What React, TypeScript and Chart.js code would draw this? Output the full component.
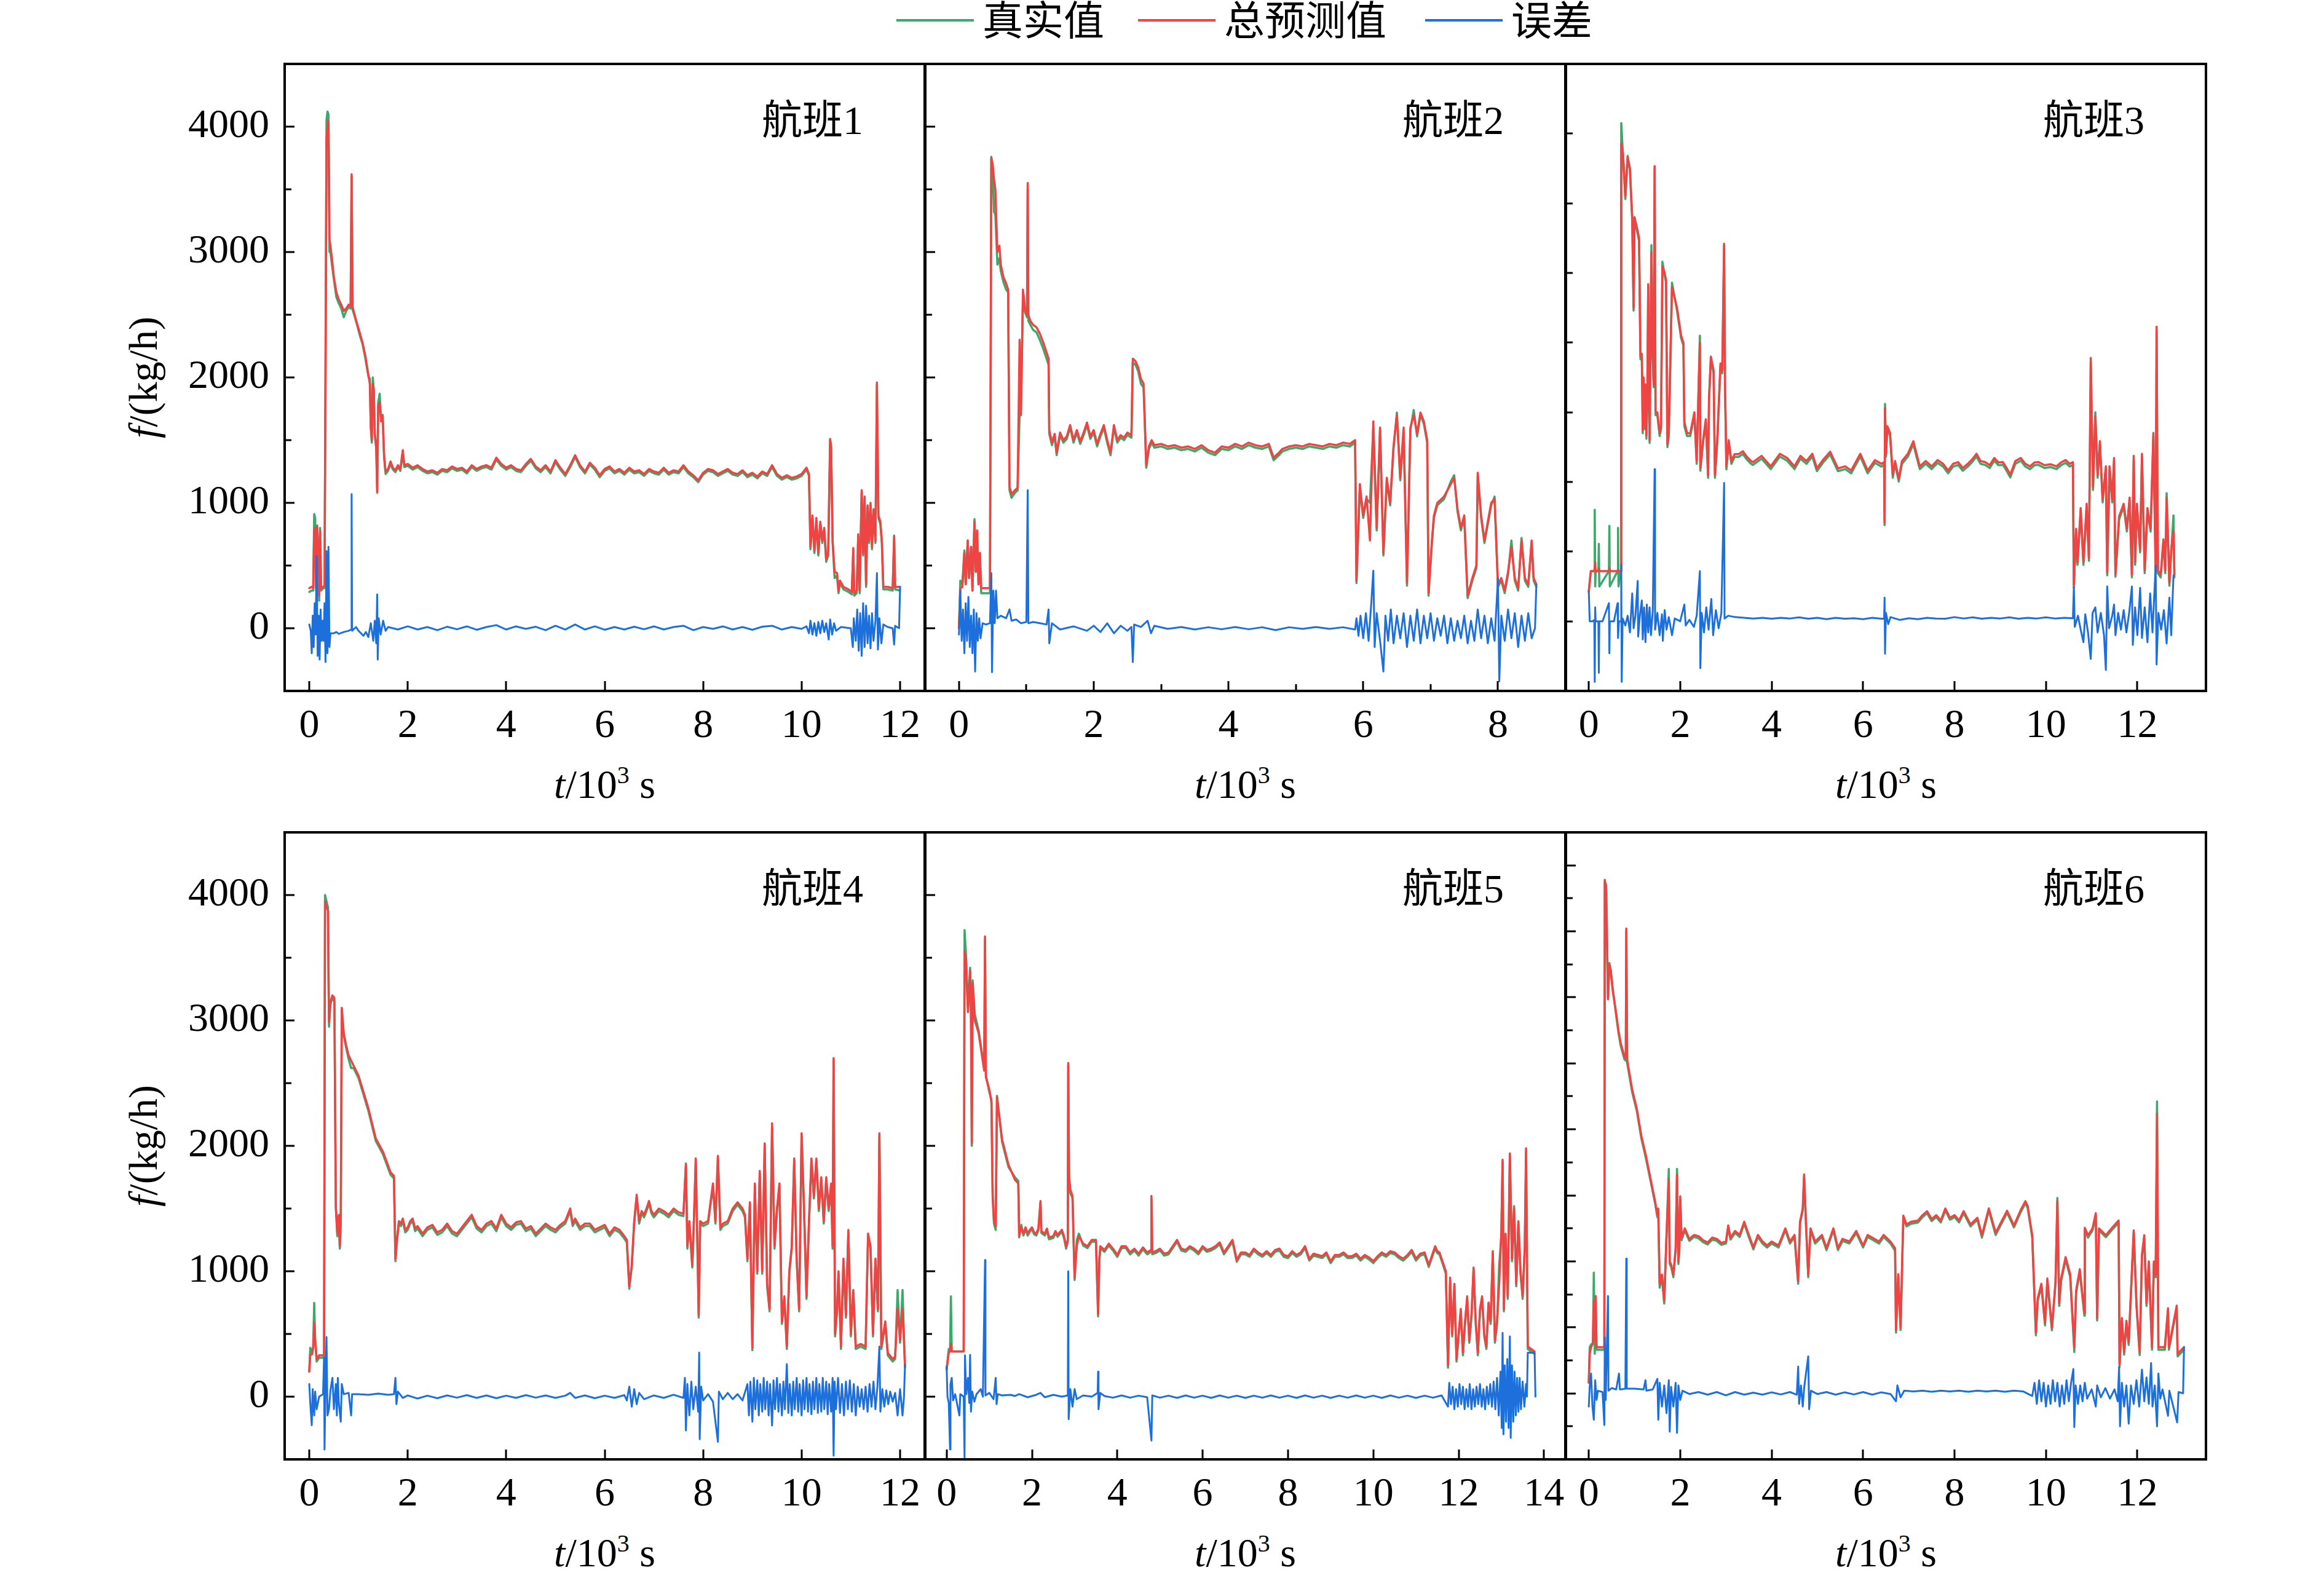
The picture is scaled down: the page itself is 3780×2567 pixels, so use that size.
import React, { useEffect, useRef } from "react";
import { Chart, registerables } from "chart.js";

Chart.register(...registerables);

type Pt = [number, number];

// ---------------- 航班1 ----------------
const pred1: Pt[] = [[0,320],[0.05,330],[0.08,320],[0.1,780],[0.12,800],[0.14,320],[0.16,810],[0.18,600],[0.2,260],[0.22,780],[0.24,320],[0.28,330],[0.31,340],[0.33,2000],[0.35,3900],[0.37,4000],[0.39,4050],[0.41,3100],[0.43,3050],[0.46,2950],[0.5,2800],[0.55,2680],[0.6,2620],[0.65,2580],[0.7,2530],[0.75,2550],[0.8,2580],[0.84,2570],[0.86,3620],[0.88,2560],[0.92,2500],[0.97,2430],[1.03,2350],[1.08,2280],[1.14,2170],[1.2,2020],[1.23,1950],[1.25,1600],[1.27,1500],[1.29,1950],[1.31,1900],[1.33,1550],[1.36,1450],[1.38,1090],[1.4,1780],[1.43,1800],[1.46,1650],[1.49,1700],[1.52,1380],[1.55,1250],[1.6,1270],[1.65,1330],[1.7,1280],[1.75,1260],[1.8,1300],[1.85,1270],[1.9,1420],[1.93,1300],[2,1310],[2.1,1280],[2.2,1300],[2.3,1270],[2.4,1250],[2.5,1260],[2.6,1240],[2.7,1270],[2.8,1260],[2.9,1290],[3,1270],[3.1,1280],[3.2,1250],[3.3,1300],[3.4,1270],[3.5,1290],[3.6,1300],[3.7,1280],[3.8,1360],[3.9,1310],[4,1280],[4.1,1300],[4.2,1270],[4.3,1260],[4.4,1310],[4.5,1350],[4.6,1290],[4.7,1260],[4.8,1300],[4.9,1250],[5,1340],[5.1,1280],[5.2,1230],[5.3,1300],[5.4,1380],[5.5,1300],[5.6,1250],[5.7,1320],[5.8,1280],[5.9,1220],[6,1270],[6.1,1290],[6.2,1250],[6.3,1270],[6.4,1240],[6.5,1280],[6.6,1250],[6.7,1260],[6.8,1230],[6.9,1270],[7,1250],[7.1,1240],[7.2,1280],[7.3,1240],[7.4,1260],[7.5,1250],[7.6,1300],[7.7,1250],[7.8,1220],[7.9,1180],[8,1240],[8.1,1270],[8.2,1260],[8.3,1230],[8.4,1250],[8.5,1270],[8.6,1240],[8.7,1230],[8.8,1260],[8.9,1220],[9,1240],[9.1,1210],[9.2,1250],[9.3,1230],[9.4,1300],[9.5,1230],[9.6,1200],[9.7,1220],[9.8,1200],[9.9,1210],[10,1230],[10.1,1280],[10.15,1230],[10.18,650],[10.22,900],[10.26,620],[10.3,880],[10.34,600],[10.38,850],[10.42,700],[10.46,800],[10.5,550],[10.54,600],[10.58,1510],[10.6,1450],[10.63,700],[10.67,450],[10.72,440],[10.75,300],[10.78,380],[10.85,330],[10.95,310],[11.02,290],[11.05,640],[11.07,280],[11.12,300],[11.15,750],[11.18,300],[11.22,1100],[11.25,600],[11.28,1050],[11.31,350],[11.34,980],[11.37,700],[11.4,1000],[11.43,650],[11.46,950],[11.5,700],[11.53,1960],[11.56,900],[11.6,850],[11.63,700],[11.66,330],[11.75,330],[11.85,320],[11.88,730],[11.9,330],[12,330]];
const true1: Pt[] = [[0,290],[0.05,300],[0.08,300],[0.1,910],[0.12,880],[0.14,300],[0.16,820],[0.18,620],[0.2,220],[0.22,800],[0.24,300],[0.28,320],[0.31,320],[0.33,2100],[0.35,4050],[0.37,4120],[0.39,4100],[0.41,3000],[0.43,3000],[0.46,2900],[0.5,2780],[0.55,2640],[0.6,2590],[0.65,2550],[0.7,2480],[0.75,2530],[0.8,2560],[0.84,2550],[0.86,3600],[0.88,2540],[0.92,2490],[0.97,2420],[1.03,2330],[1.08,2270],[1.14,2150],[1.2,2010],[1.23,1990],[1.25,1600],[1.27,1480],[1.29,2000],[1.31,1900],[1.33,1550],[1.36,1430],[1.38,1080],[1.4,1800],[1.43,1870],[1.46,1650],[1.49,1700],[1.52,1360],[1.55,1230],[1.6,1255],[1.65,1310],[1.7,1265],[1.75,1245],[1.8,1285],[1.85,1255],[1.9,1405],[1.93,1285],[2,1295],[2.1,1265],[2.2,1285],[2.3,1255],[2.4,1235],[2.5,1245],[2.6,1225],[2.7,1255],[2.8,1245],[2.9,1275],[3,1255],[3.1,1265],[3.2,1235],[3.3,1285],[3.4,1255],[3.5,1275],[3.6,1285],[3.7,1265],[3.8,1345],[3.9,1295],[4,1265],[4.1,1285],[4.2,1255],[4.3,1245],[4.4,1295],[4.5,1335],[4.6,1275],[4.7,1245],[4.8,1285],[4.9,1235],[5,1325],[5.1,1265],[5.2,1215],[5.3,1285],[5.4,1365],[5.5,1285],[5.6,1235],[5.7,1305],[5.8,1265],[5.9,1205],[6,1255],[6.1,1275],[6.2,1235],[6.3,1255],[6.4,1225],[6.5,1265],[6.6,1235],[6.7,1245],[6.8,1215],[6.9,1255],[7,1235],[7.1,1225],[7.2,1265],[7.3,1225],[7.4,1245],[7.5,1235],[7.6,1285],[7.7,1235],[7.8,1205],[7.9,1165],[8,1225],[8.1,1255],[8.2,1245],[8.3,1215],[8.4,1235],[8.5,1255],[8.6,1225],[8.7,1215],[8.8,1245],[8.9,1205],[9,1225],[9.1,1195],[9.2,1235],[9.3,1215],[9.4,1285],[9.5,1215],[9.6,1185],[9.7,1205],[9.8,1185],[9.9,1195],[10,1215],[10.1,1265],[10.15,1215],[10.18,630],[10.22,880],[10.26,600],[10.3,860],[10.34,580],[10.38,830],[10.42,680],[10.46,780],[10.5,530],[10.54,580],[10.58,1500],[10.6,1440],[10.63,680],[10.67,400],[10.72,420],[10.75,280],[10.78,360],[10.85,310],[10.95,290],[11.02,270],[11.05,620],[11.07,260],[11.12,280],[11.15,730],[11.18,280],[11.22,1080],[11.25,580],[11.28,1030],[11.31,330],[11.34,960],[11.37,680],[11.4,980],[11.43,630],[11.46,930],[11.5,680],[11.53,1940],[11.56,880],[11.6,830],[11.63,680],[11.66,310],[11.75,310],[11.85,300],[11.88,740],[11.9,310],[12,300]];
const err1: Pt[] = [[0,30],[0.03,-20],[0.05,-200],[0.07,100],[0.09,-150],[0.11,200],[0.13,-50],[0.15,576],[0.17,-220],[0.19,100],[0.21,-250],[0.23,150],[0.25,-100],[0.27,60],[0.29,-100],[0.31,200],[0.33,-270],[0.35,615],[0.37,-200],[0.39,650],[0.41,-150],[0.43,-40],[0.5,-40],[0.55,-30],[0.6,-45],[0.7,-30],[0.8,-20],[0.85,-10],[0.86,1070],[0.87,-20],[0.95,10],[1,-20],[1.1,-60],[1.15,-30],[1.2,-70],[1.25,40],[1.3,-100],[1.33,60],[1.36,-120],[1.38,270],[1.39,-250],[1.41,80],[1.45,-50],[1.5,60],[1.55,-20],[1.6,10],[1.8,-10],[2,15],[2.2,-10],[2.4,10],[2.6,-15],[2.8,12],[3,-8],[3.2,15],[3.4,-12],[3.6,10],[3.8,25],[4,-10],[4.2,15],[4.4,-5],[4.6,12],[4.8,-15],[5,20],[5.2,-10],[5.4,30],[5.6,-10],[5.8,15],[6,-12],[6.2,10],[6.4,-10],[6.6,12],[6.8,-8],[7,15],[7.2,-10],[7.4,10],[7.6,20],[7.8,-15],[8,10],[8.2,-5],[8.4,15],[8.6,-10],[8.8,10],[9,-12],[9.2,12],[9.4,20],[9.6,-10],[9.8,10],[10,-5],[10.1,15],[10.15,-40],[10.18,60],[10.22,-50],[10.26,40],[10.3,-60],[10.34,50],[10.38,-40],[10.42,60],[10.46,-30],[10.5,40],[10.55,-90],[10.58,70],[10.62,-50],[10.66,40],[10.7,-20],[10.8,10],[11,0],[11.04,-150],[11.06,80],[11.1,-100],[11.13,150],[11.16,-180],[11.19,120],[11.22,-220],[11.25,200],[11.28,-150],[11.31,180],[11.34,-120],[11.37,100],[11.4,-160],[11.43,120],[11.46,-100],[11.5,60],[11.53,440],[11.55,-170],[11.58,80],[11.62,-120],[11.66,30],[11.75,10],[11.85,0],[11.88,-130],[11.9,20],[11.98,0],[12,330]];

// ---------------- 航班2 ----------------
const pred2: Pt[] = [[0,0],[0.02,320],[0.05,330],[0.08,600],[0.1,350],[0.13,700],[0.15,400],[0.18,650],[0.2,300],[0.23,850],[0.25,450],[0.27,780],[0.29,350],[0.31,600],[0.33,320],[0.4,320],[0.46,320],[0.48,3750],[0.5,3700],[0.52,3580],[0.54,3500],[0.57,3000],[0.6,3050],[0.62,2900],[0.66,2800],[0.7,2750],[0.73,2700],[0.75,1130],[0.78,1070],[0.83,1100],[0.87,1120],[0.9,2300],[0.92,1700],[0.95,2700],[0.98,2550],[1.01,2500],[1.02,3550],[1.03,2500],[1.06,2450],[1.1,2420],[1.15,2400],[1.2,2350],[1.25,2280],[1.3,2200],[1.33,2150],[1.34,1580],[1.38,1480],[1.42,1550],[1.45,1400],[1.5,1560],[1.55,1500],[1.6,1530],[1.65,1620],[1.7,1500],[1.75,1580],[1.8,1490],[1.85,1560],[1.9,1640],[1.95,1530],[2,1580],[2.05,1470],[2.1,1550],[2.15,1620],[2.2,1500],[2.25,1400],[2.3,1620],[2.35,1500],[2.4,1540],[2.45,1520],[2.5,1560],[2.56,1540],[2.58,2150],[2.62,2130],[2.66,2080],[2.7,1990],[2.74,1950],[2.78,1300],[2.82,1450],[2.86,1500],[2.9,1460],[3,1470],[3.1,1450],[3.2,1460],[3.3,1440],[3.4,1450],[3.5,1430],[3.6,1460],[3.7,1420],[3.8,1400],[3.9,1450],[4,1440],[4.1,1470],[4.2,1450],[4.3,1480],[4.4,1460],[4.5,1450],[4.6,1470],[4.67,1360],[4.75,1400],[4.8,1430],[4.9,1450],[5,1460],[5.1,1450],[5.2,1470],[5.3,1460],[5.4,1450],[5.5,1470],[5.6,1460],[5.7,1480],[5.8,1470],[5.88,1500],[5.9,380],[5.95,1150],[6,900],[6.05,1050],[6.1,700],[6.15,1650],[6.2,800],[6.25,1600],[6.3,600],[6.35,1200],[6.4,1000],[6.45,1450],[6.5,1700],[6.55,1200],[6.6,1600],[6.65,360],[6.7,1600],[6.75,1700],[6.8,1550],[6.85,1720],[6.9,1650],[6.95,1500],[6.97,280],[7.02,700],[7.05,900],[7.1,1000],[7.2,1050],[7.3,1150],[7.35,1200],[7.4,950],[7.45,800],[7.5,900],[7.55,260],[7.62,400],[7.68,500],[7.7,1240],[7.75,900],[7.8,700],[7.85,850],[7.9,1000],[7.95,1030],[8,350],[8.05,400],[8.1,300],[8.15,450],[8.2,650],[8.25,400],[8.3,320],[8.35,700],[8.4,400],[8.45,350],[8.5,700],[8.53,400],[8.57,350]];
const true2: Pt[] = [[0,0],[0.02,380],[0.05,350],[0.08,620],[0.1,350],[0.13,700],[0.15,400],[0.18,650],[0.2,300],[0.23,870],[0.25,450],[0.27,780],[0.29,350],[0.31,600],[0.33,280],[0.4,280],[0.46,280],[0.48,3760],[0.5,3650],[0.52,3320],[0.54,3300],[0.57,2900],[0.6,2950],[0.62,2850],[0.66,2760],[0.7,2700],[0.73,2680],[0.75,1100],[0.78,1040],[0.83,1080],[0.87,1100],[0.9,1700],[0.92,1750],[0.95,2650],[0.98,2520],[1.01,2480],[1.02,3500],[1.03,2450],[1.06,2420],[1.1,2380],[1.15,2360],[1.2,2300],[1.25,2230],[1.3,2150],[1.33,2100],[1.34,1550],[1.38,1460],[1.42,1530],[1.45,1380],[1.5,1540],[1.55,1480],[1.6,1510],[1.65,1600],[1.7,1480],[1.75,1560],[1.8,1470],[1.85,1540],[1.9,1620],[1.95,1510],[2,1560],[2.05,1450],[2.1,1530],[2.15,1600],[2.2,1480],[2.25,1380],[2.3,1600],[2.35,1480],[2.4,1520],[2.45,1500],[2.5,1540],[2.56,1520],[2.58,2120],[2.62,2100],[2.66,2050],[2.7,1950],[2.74,1920],[2.78,1280],[2.82,1430],[2.86,1480],[2.9,1440],[3,1450],[3.1,1430],[3.2,1440],[3.3,1420],[3.4,1430],[3.5,1410],[3.6,1440],[3.7,1400],[3.8,1380],[3.9,1430],[4,1420],[4.1,1450],[4.2,1430],[4.3,1460],[4.4,1440],[4.5,1430],[4.6,1450],[4.67,1340],[4.75,1380],[4.8,1410],[4.9,1430],[5,1440],[5.1,1430],[5.2,1450],[5.3,1440],[5.4,1430],[5.5,1450],[5.6,1440],[5.7,1460],[5.8,1450],[5.88,1480],[5.9,360],[5.95,1120],[6,880],[6.05,1030],[6.1,1000],[6.15,1600],[6.2,780],[6.25,1580],[6.3,580],[6.35,1180],[6.4,980],[6.45,1430],[6.5,1720],[6.55,1180],[6.6,1560],[6.65,340],[6.7,1580],[6.75,1740],[6.8,1530],[6.85,1700],[6.9,1630],[6.95,1480],[6.97,260],[7.02,680],[7.05,880],[7.1,980],[7.2,1030],[7.3,1170],[7.35,1220],[7.4,930],[7.45,780],[7.5,880],[7.55,240],[7.62,380],[7.68,480],[7.7,1220],[7.75,880],[7.8,680],[7.85,830],[7.9,980],[7.95,1050],[8,330],[8.05,380],[8.1,280],[8.15,430],[8.2,700],[8.25,380],[8.3,300],[8.35,720],[8.4,380],[8.45,330],[8.5,680],[8.53,380],[8.57,330]];
const err2: Pt[] = [[0,-50],[0.02,300],[0.04,-100],[0.06,150],[0.08,-200],[0.1,200],[0.12,-100],[0.14,250],[0.16,-150],[0.18,100],[0.2,-200],[0.22,150],[0.24,-345],[0.26,120],[0.28,-100],[0.3,80],[0.32,-80],[0.35,40],[0.4,30],[0.46,40],[0.48,440],[0.49,-350],[0.51,300],[0.53,40],[0.55,300],[0.57,80],[0.62,100],[0.7,80],[0.75,150],[0.78,60],[0.85,70],[0.92,40],[1,50],[1.02,1100],[1.03,40],[1.1,50],[1.2,40],[1.3,30],[1.33,150],[1.34,-120],[1.38,40],[1.5,-10],[1.7,15],[1.9,-20],[2,20],[2.1,-30],[2.2,40],[2.3,-40],[2.4,20],[2.5,-20],[2.56,10],[2.58,-270],[2.6,30],[2.7,10],[2.8,60],[2.85,-40],[2.9,20],[3.1,-5],[3.3,10],[3.5,-10],[3.7,8],[3.9,-8],[4.1,10],[4.3,-8],[4.5,8],[4.7,-15],[4.9,8],[5.1,-5],[5.3,10],[5.5,-5],[5.7,8],[5.88,-10],[5.9,80],[5.93,-60],[5.96,100],[6,-80],[6.04,120],[6.08,-100],[6.12,200],[6.15,460],[6.17,-150],[6.2,120],[6.25,-100],[6.3,-345],[6.33,100],[6.37,-100],[6.41,150],[6.45,-120],[6.5,100],[6.55,-80],[6.6,120],[6.65,-150],[6.7,100],[6.75,-100],[6.8,150],[6.85,-120],[6.9,100],[6.95,-80],[7,120],[7.05,-100],[7.1,80],[7.15,-60],[7.2,100],[7.25,-120],[7.3,80],[7.35,-100],[7.4,60],[7.45,-80],[7.5,100],[7.55,-120],[7.6,60],[7.65,-100],[7.7,150],[7.75,-80],[7.8,100],[7.85,-120],[7.9,80],[7.95,-100],[8,400],[8.02,-424],[8.05,100],[8.1,-100],[8.15,150],[8.2,-80],[8.25,120],[8.3,-150],[8.35,100],[8.4,-100],[8.45,120],[8.5,-80],[8.55,0],[8.57,350]];

// ---------------- 航班3 ----------------
const pred3: Pt[] = [[0,214],[0.045,360],[0.12,360],[0.13,360],[0.14,425],[0.15,360],[0.21,360],[0.22,380],[0.23,360],[0.44,360],[0.45,380],[0.46,360],[0.63,360],[0.64,370],[0.65,360],[0.7,360],[0.71,3430],[0.75,3350],[0.8,3055],[0.85,3330],[0.9,3250],[0.95,2900],[0.98,2250],[1,2900],[1.05,2830],[1.1,2750],[1.13,1900],[1.16,1920],[1.18,1370],[1.2,1750],[1.22,1400],[1.24,1700],[1.26,1334],[1.28,1600],[1.3,2420],[1.33,1300],[1.37,2650],[1.39,1980],[1.42,1700],[1.44,3266],[1.46,1500],[1.5,1500],[1.55,1350],[1.58,1400],[1.61,2550],[1.66,2500],[1.69,2450],[1.72,1270],[1.75,1350],[1.82,2400],[1.93,2250],[2.02,2050],[2.07,2000],[2.09,1430],[2.15,1350],[2.22,1350],[2.31,1500],[2.36,1150],[2.43,2000],[2.44,1100],[2.5,1300],[2.56,1450],[2.61,1050],[2.63,1600],[2.67,1900],[2.73,1800],[2.76,1050],[2.81,1300],[2.88,1850],[2.92,1800],[2.96,2710],[2.98,1700],[3.01,1110],[3.06,1300],[3.12,1150],[3.19,1200],[3.28,1200],[3.37,1220],[3.46,1180],[3.55,1150],[3.59,1142],[3.78,1187],[3.98,1112],[4.18,1202],[4.34,1172],[4.5,1112],[4.63,1187],[4.76,1150],[4.89,1202],[4.99,1097],[5.12,1157],[5.28,1217],[5.45,1097],[5.61,1112],[5.74,1082],[5.94,1202],[6.1,1082],[6.26,1157],[6.4,1130],[6.46,1142],[6.47,709],[6.48,1531],[6.5,1200],[6.53,1400],[6.59,1352],[6.65,1050],[6.7,1150],[6.78,1023],[6.85,1150],[6.98,1202],[7.1,1292],[7.17,1200],[7.24,1112],[7.37,1150],[7.5,1112],[7.63,1157],[7.75,1130],[7.86,1082],[7.97,1130],[8.08,1142],[8.18,1100],[8.28,1127],[8.38,1160],[8.48,1202],[8.57,1150],[8.67,1142],[8.77,1120],[8.87,1172],[8.96,1140],[9.06,1142],[9.14,1100],[9.22,1052],[9.33,1150],[9.45,1172],[9.55,1130],[9.65,1112],[9.75,1140],[9.84,1142],[9.97,1120],[10.1,1127],[10.23,1112],[10.33,1140],[10.43,1157],[10.52,1130],[10.59,1142],[10.61,260],[10.66,664],[10.69,425],[10.76,813],[10.82,425],[10.89,843],[10.94,454],[10.98,1890],[11.03,963],[11.08,1471],[11.13,1050],[11.18,1292],[11.24,873],[11.31,1112],[11.34,350],[11.39,1112],[11.45,873],[11.49,1172],[11.52,335],[11.6,753],[11.7,843],[11.77,665],[11.83,888],[11.88,335],[11.92,1187],[11.95,425],[11.99,843],[12.06,514],[12.1,1202],[12.16,365],[12.22,813],[12.29,664],[12.35,1352],[12.4,365],[12.42,2114],[12.45,365],[12.51,335],[12.57,589],[12.61,365],[12.64,888],[12.7,275],[12.74,514],[12.79,649],[12.81,335]];
const true3: Pt[] = [[0,214],[0.045,360],[0.12,360],[0.13,800],[0.14,250],[0.15,360],[0.21,360],[0.22,555],[0.23,250],[0.44,360],[0.45,685],[0.46,250],[0.63,360],[0.64,670],[0.65,250],[0.7,360],[0.71,3575],[0.75,3330],[0.8,3030],[0.85,3340],[0.9,3230],[0.95,2880],[0.98,2230],[1,2880],[1.05,2810],[1.1,2730],[1.13,1880],[1.16,1900],[1.18,1350],[1.2,1730],[1.22,1380],[1.24,1680],[1.26,1310],[1.28,1580],[1.3,2400],[1.33,1280],[1.37,2700],[1.39,1960],[1.42,1680],[1.44,3250],[1.46,1480],[1.5,1480],[1.55,1330],[1.58,1380],[1.61,2580],[1.66,2480],[1.69,2430],[1.72,1250],[1.75,1330],[1.82,2430],[1.93,2230],[2.02,2030],[2.07,1980],[2.09,1400],[2.15,1330],[2.22,1330],[2.31,1480],[2.36,1130],[2.43,2050],[2.44,1080],[2.5,1280],[2.56,1430],[2.61,1030],[2.63,1580],[2.67,1880],[2.73,1780],[2.76,1030],[2.81,1280],[2.88,1830],[2.92,1780],[2.96,2700],[2.98,1680],[3.01,1090],[3.06,1280],[3.12,1130],[3.19,1180],[3.28,1180],[3.37,1200],[3.46,1160],[3.55,1130],[3.59,1122],[3.78,1167],[3.98,1092],[4.18,1182],[4.34,1152],[4.5,1092],[4.63,1167],[4.76,1130],[4.89,1182],[4.99,1077],[5.12,1137],[5.28,1197],[5.45,1077],[5.61,1092],[5.74,1062],[5.94,1182],[6.1,1062],[6.26,1137],[6.4,1110],[6.46,1122],[6.47,690],[6.48,1560],[6.5,1180],[6.53,1380],[6.59,1332],[6.65,1030],[6.7,1130],[6.78,1003],[6.85,1130],[6.98,1182],[7.1,1272],[7.17,1180],[7.24,1092],[7.37,1130],[7.5,1092],[7.63,1137],[7.75,1110],[7.86,1062],[7.97,1110],[8.08,1122],[8.18,1080],[8.28,1107],[8.38,1140],[8.48,1182],[8.57,1130],[8.67,1122],[8.77,1100],[8.87,1152],[8.96,1120],[9.06,1122],[9.14,1080],[9.22,1032],[9.33,1130],[9.45,1152],[9.55,1110],[9.65,1092],[9.75,1120],[9.84,1122],[9.97,1100],[10.1,1107],[10.23,1092],[10.33,1120],[10.43,1137],[10.52,1110],[10.59,1122],[10.61,240],[10.66,640],[10.69,405],[10.76,790],[10.82,405],[10.89,823],[10.94,434],[10.98,1860],[11.03,943],[11.08,1500],[11.13,1030],[11.18,1272],[11.24,853],[11.31,1092],[11.34,330],[11.39,1092],[11.45,853],[11.49,1152],[11.52,320],[11.6,730],[11.7,823],[11.77,645],[11.83,868],[11.88,315],[11.92,1160],[11.95,405],[11.99,823],[12.06,494],[12.1,1180],[12.16,345],[12.22,793],[12.29,644],[12.35,1332],[12.4,345],[12.42,2090],[12.45,345],[12.51,315],[12.57,569],[12.61,345],[12.64,920],[12.7,255],[12.74,494],[12.79,760],[12.81,315]];
const err3: Pt[] = [[0,214],[0.02,0],[0.08,0],[0.12,10],[0.13,-435],[0.14,100],[0.15,0],[0.21,0],[0.22,-370],[0.23,0],[0.3,0],[0.44,130],[0.45,-230],[0.46,0],[0.55,0],[0.63,130],[0.64,-120],[0.66,0],[0.7,0],[0.71,409],[0.72,-435],[0.74,20],[0.8,-30],[0.85,40],[0.9,-80],[0.95,200],[0.98,-50],[1.02,40],[1.07,290],[1.08,-110],[1.12,50],[1.16,150],[1.18,-130],[1.21,100],[1.24,-150],[1.27,120],[1.3,-80],[1.33,100],[1.36,-100],[1.4,80],[1.44,1091],[1.45,-60],[1.5,60],[1.55,-100],[1.6,50],[1.62,-140],[1.66,80],[1.7,-60],[1.75,30],[1.82,-100],[1.88,20],[2,0],[2.09,120],[2.12,-30],[2.2,10],[2.3,-40],[2.36,40],[2.43,360],[2.44,-337],[2.47,60],[2.52,-80],[2.57,100],[2.62,-60],[2.68,160],[2.72,-100],[2.78,80],[2.84,-50],[2.9,60],[2.96,993],[2.97,20],[3.05,40],[3.2,30],[3.4,25],[3.6,20],[3.8,25],[4,18],[4.2,25],[4.4,20],[4.6,28],[4.8,18],[5,25],[5.2,15],[5.4,25],[5.6,18],[5.8,22],[6,15],[6.2,25],[6.4,18],[6.46,20],[6.47,170],[6.48,-233],[6.5,60],[6.55,-20],[6.6,30],[6.8,10],[7,22],[7.2,15],[7.4,25],[7.6,20],[7.8,18],[8,30],[8.2,20],[8.4,28],[8.6,18],[8.8,25],[9,20],[9.2,28],[9.4,18],[9.6,25],[9.8,20],[10,28],[10.2,20],[10.4,25],[10.59,22],[10.61,245],[10.63,-40],[10.7,40],[10.76,-60],[10.82,-150],[10.86,50],[10.92,-80],[10.98,-270],[11.02,60],[11.08,100],[11.13,-80],[11.2,60],[11.27,-100],[11.31,-350],[11.34,250],[11.38,-50],[11.45,40],[11.49,120],[11.52,-100],[11.58,60],[11.64,-60],[11.7,80],[11.76,-80],[11.82,60],[11.88,250],[11.9,-170],[11.95,100],[12,-100],[12.06,240],[12.1,-120],[12.16,100],[12.22,-150],[12.28,200],[12.33,-80],[12.4,400],[12.42,-310],[12.46,60],[12.52,-60],[12.58,80],[12.64,-160],[12.7,170],[12.74,-100],[12.79,330]];

// ---------------- 航班4 ----------------
const pred4: Pt[] = [[0,200],[0.02,333],[0.06,340],[0.08,400],[0.1,590],[0.12,450],[0.15,300],[0.2,330],[0.25,330],[0.3,330],[0.32,3950],[0.35,3900],[0.38,3880],[0.4,2990],[0.43,3150],[0.47,3200],[0.51,3180],[0.54,1515],[0.57,1300],[0.6,1450],[0.62,1200],[0.64,1400],[0.66,3100],[0.7,2900],[0.75,2800],[0.8,2720],[0.85,2680],[0.9,2640],[1,2560],[1.1,2430],[1.2,2300],[1.35,2060],[1.5,1950],[1.65,1790],[1.72,1760],[1.75,1100],[1.78,1250],[1.82,1400],[1.86,1380],[1.9,1420],[1.95,1330],[2,1350],[2.05,1400],[2.1,1420],[2.15,1340],[2.2,1360],[2.3,1300],[2.4,1350],[2.5,1370],[2.6,1310],[2.7,1330],[2.8,1380],[2.9,1320],[3,1300],[3.1,1350],[3.2,1400],[3.3,1450],[3.4,1360],[3.5,1330],[3.6,1380],[3.7,1400],[3.8,1340],[3.9,1450],[4,1380],[4.1,1350],[4.2,1390],[4.3,1400],[4.4,1340],[4.5,1360],[4.6,1300],[4.7,1340],[4.8,1380],[4.9,1350],[5,1330],[5.1,1370],[5.2,1400],[5.3,1500],[5.35,1380],[5.4,1420],[5.5,1350],[5.6,1380],[5.7,1380],[5.8,1330],[5.9,1350],[6,1370],[6.1,1300],[6.2,1350],[6.3,1330],[6.4,1280],[6.45,1250],[6.5,880],[6.55,1050],[6.6,1400],[6.65,1610],[6.7,1400],[6.75,1480],[6.8,1450],[6.85,1500],[6.9,1560],[6.95,1480],[7,1450],[7.1,1500],[7.2,1480],[7.3,1450],[7.4,1500],[7.5,1470],[7.6,1460],[7.65,1850],[7.68,1200],[7.72,1400],[7.78,1050],[7.82,1500],[7.85,1900],[7.88,1300],[7.91,650],[7.94,1400],[8,1380],[8.1,1400],[8.15,1550],[8.2,1700],[8.25,1400],[8.3,1920],[8.35,1350],[8.4,1380],[8.5,1400],[8.6,1500],[8.7,1550],[8.8,1500],[8.85,1450],[8.9,1100],[8.95,1550],[9,390],[9.05,1700],[9.1,1000],[9.15,1800],[9.2,1000],[9.25,2020],[9.3,900],[9.35,700],[9.4,2180],[9.45,1200],[9.5,1500],[9.55,1700],[9.6,600],[9.65,800],[9.7,400],[9.75,1000],[9.8,1200],[9.85,1900],[9.9,1100],[9.95,700],[10,2100],[10.05,1500],[10.1,800],[10.15,1400],[10.2,1900],[10.25,1600],[10.3,1900],[10.35,1500],[10.4,1750],[10.45,1400],[10.5,1750],[10.55,1500],[10.6,1700],[10.63,1200],[10.65,2700],[10.68,500],[10.72,700],[10.75,1000],[10.8,400],[10.85,1100],[10.9,650],[10.95,1330],[11,500],[11.05,850],[11.1,400],[11.2,420],[11.3,400],[11.35,1300],[11.4,1200],[11.45,500],[11.5,1100],[11.55,700],[11.58,2100],[11.62,400],[11.7,600],[11.75,350],[11.85,300],[11.9,320],[11.95,700],[12,450],[12.05,700],[12.1,250]];
const true4: Pt[] = [[0,200],[0.02,390],[0.06,340],[0.08,400],[0.1,748],[0.12,450],[0.15,280],[0.2,310],[0.25,310],[0.3,310],[0.32,4000],[0.35,3950],[0.38,3900],[0.4,2950],[0.43,3130],[0.47,3180],[0.51,3150],[0.54,1500],[0.57,1280],[0.6,1430],[0.62,1180],[0.64,1380],[0.66,3080],[0.7,2880],[0.75,2780],[0.8,2690],[0.85,2620],[0.9,2620],[1,2540],[1.1,2410],[1.2,2280],[1.35,2040],[1.5,1930],[1.65,1770],[1.72,1740],[1.75,1080],[1.78,1230],[1.82,1380],[1.86,1360],[1.9,1400],[1.95,1310],[2,1330],[2.05,1380],[2.1,1400],[2.15,1320],[2.2,1340],[2.3,1280],[2.4,1330],[2.5,1350],[2.6,1290],[2.7,1310],[2.8,1360],[2.9,1300],[3,1280],[3.1,1330],[3.2,1380],[3.3,1430],[3.4,1340],[3.5,1310],[3.6,1360],[3.7,1380],[3.8,1320],[3.9,1430],[4,1360],[4.1,1330],[4.2,1370],[4.3,1380],[4.4,1320],[4.5,1340],[4.6,1280],[4.7,1320],[4.8,1360],[4.9,1330],[5,1310],[5.1,1350],[5.2,1380],[5.3,1480],[5.35,1360],[5.4,1400],[5.5,1330],[5.6,1360],[5.7,1360],[5.8,1310],[5.9,1330],[6,1350],[6.1,1280],[6.2,1330],[6.3,1310],[6.4,1260],[6.45,1230],[6.5,860],[6.55,1030],[6.6,1380],[6.65,1590],[6.7,1380],[6.75,1460],[6.8,1430],[6.85,1480],[6.9,1540],[6.95,1460],[7,1430],[7.1,1480],[7.2,1460],[7.3,1430],[7.4,1480],[7.5,1450],[7.6,1440],[7.65,1860],[7.68,1180],[7.72,1380],[7.78,1030],[7.82,1480],[7.85,1880],[7.88,1280],[7.91,630],[7.94,1380],[8,1360],[8.1,1380],[8.15,1530],[8.2,1680],[8.25,1380],[8.3,1900],[8.35,1330],[8.4,1360],[8.5,1380],[8.6,1480],[8.7,1530],[8.8,1480],[8.85,1430],[8.9,1080],[8.95,1530],[9,370],[9.05,1680],[9.1,980],[9.15,1780],[9.2,980],[9.25,2000],[9.3,880],[9.35,680],[9.4,2150],[9.45,1180],[9.5,1480],[9.55,1680],[9.6,580],[9.65,780],[9.7,380],[9.75,980],[9.8,1180],[9.85,1880],[9.9,1080],[9.95,680],[10,2080],[10.05,1480],[10.1,780],[10.15,1380],[10.2,1880],[10.25,1580],[10.3,1880],[10.35,1480],[10.4,1730],[10.45,1380],[10.5,1730],[10.55,1480],[10.6,1680],[10.63,1180],[10.65,2680],[10.68,480],[10.72,680],[10.75,980],[10.8,380],[10.85,1080],[10.9,630],[10.95,1310],[11,480],[11.05,830],[11.1,380],[11.2,400],[11.3,380],[11.35,1280],[11.4,1180],[11.45,480],[11.5,1080],[11.55,680],[11.58,2080],[11.62,380],[11.7,580],[11.75,330],[11.85,280],[11.9,300],[11.95,850],[12,430],[12.05,850],[12.1,230]];
const err4: Pt[] = [[0,100],[0.02,-50],[0.05,-228],[0.07,60],[0.1,-150],[0.12,40],[0.15,-100],[0.2,0],[0.28,20],[0.3,314],[0.31,-422],[0.33,100],[0.35,476],[0.37,-150],[0.4,-100],[0.43,50],[0.47,150],[0.5,-100],[0.54,100],[0.56,-150],[0.58,150],[0.6,-50],[0.64,-200],[0.66,100],[0.7,20],[0.8,30],[0.85,-150],[0.87,20],[1,20],[1.2,15],[1.4,25],[1.6,15],[1.72,20],[1.75,150],[1.77,-60],[1.8,40],[1.9,-10],[2,10],[2.2,-15],[2.4,8],[2.6,-12],[2.8,10],[3,-8],[3.2,12],[3.4,-10],[3.6,10],[3.8,-12],[4,8],[4.2,-10],[4.4,12],[4.6,-8],[4.8,10],[5,-10],[5.2,8],[5.3,30],[5.4,-10],[5.6,10],[5.8,-12],[6,8],[6.2,-10],[6.4,12],[6.45,-30],[6.5,80],[6.55,-80],[6.6,60],[6.65,-60],[6.7,30],[6.8,-20],[7,10],[7.2,-10],[7.4,15],[7.6,-10],[7.63,150],[7.65,-270],[7.68,100],[7.72,-150],[7.76,120],[7.8,-100],[7.85,80],[7.9,-120],[7.92,352],[7.93,-340],[7.96,80],[8,-30],[8.1,20],[8.2,-40],[8.3,-360],[8.32,40],[8.4,-20],[8.5,30],[8.6,-20],[8.7,20],[8.8,-30],[8.9,100],[8.93,-150],[8.96,120],[9,-200],[9.03,150],[9.06,-100],[9.1,130],[9.13,-150],[9.16,100],[9.2,-120],[9.23,150],[9.26,-100],[9.3,120],[9.33,-150],[9.36,100],[9.4,-230],[9.43,130],[9.46,-100],[9.5,150],[9.53,-120],[9.56,100],[9.6,-150],[9.63,120],[9.66,-100],[9.7,260],[9.73,-130],[9.76,100],[9.8,-150],[9.83,120],[9.86,-100],[9.9,150],[9.93,-120],[9.96,100],[10,-150],[10.03,130],[10.06,-100],[10.1,150],[10.13,-120],[10.16,100],[10.2,-140],[10.23,120],[10.26,-100],[10.3,150],[10.33,-130],[10.36,100],[10.4,-120],[10.43,150],[10.46,-100],[10.5,120],[10.53,-140],[10.56,100],[10.6,-120],[10.63,150],[10.65,-470],[10.67,120],[10.7,-100],[10.74,150],[10.78,-130],[10.82,100],[10.86,-150],[10.9,120],[10.94,-100],[10.98,130],[11.02,-120],[11.06,100],[11.1,-150],[11.14,80],[11.18,-80],[11.22,60],[11.26,-100],[11.3,80],[11.34,-120],[11.38,100],[11.42,-80],[11.46,120],[11.5,-100],[11.54,80],[11.58,400],[11.6,-120],[11.64,60],[11.68,-80],[11.72,50],[11.76,-60],[11.8,40],[11.85,-40],[11.9,30],[11.95,-150],[12,60],[12.05,-150],[12.08,0],[12.1,250]];

// ---------------- 航班5 ----------------
const pred5: Pt[] = [[0,217],[0.05,350],[0.08,360],[0.1,420],[0.12,360],[0.4,360],[0.42,3550],[0.45,3500],[0.5,3066],[0.55,3400],[0.57,3100],[0.59,2020],[0.61,3300],[0.66,3000],[0.75,2900],[0.88,2600],[0.9,3670],[0.92,2550],[1,2450],[1.05,2350],[1.08,1600],[1.11,1400],[1.15,1360],[1.18,2390],[1.3,2050],[1.45,1850],[1.6,1730],[1.68,1700],[1.7,1283],[1.75,1350],[1.8,1300],[1.85,1350],[1.9,1300],[1.95,1330],[2,1350],[2.05,1310],[2.1,1300],[2.15,1340],[2.2,1560],[2.22,1320],[2.3,1300],[2.35,1340],[2.4,1270],[2.5,1280],[2.55,1320],[2.6,1290],[2.7,1330],[2.75,1280],[2.8,1200],[2.84,1250],[2.85,2660],[2.87,1750],[2.9,1650],[2.95,1600],[2.98,1200],[3,950],[3.05,1200],[3.1,1280],[3.2,1220],[3.3,1200],[3.4,1250],[3.5,1250],[3.55,660],[3.58,1100],[3.6,1200],[3.7,1170],[3.8,1220],[3.9,1180],[4,1130],[4.1,1200],[4.2,1200],[4.3,1150],[4.4,1180],[4.5,1140],[4.6,1190],[4.7,1150],[4.79,1170],[4.8,1600],[4.82,1150],[4.9,1160],[5,1180],[5.1,1140],[5.2,1150],[5.3,1200],[5.4,1250],[5.5,1180],[5.6,1170],[5.7,1200],[5.8,1180],[5.9,1150],[6,1200],[6.1,1170],[6.2,1180],[6.3,1200],[6.4,1230],[6.5,1150],[6.6,1200],[6.7,1250],[6.8,1090],[6.9,1150],[7,1150],[7.1,1130],[7.2,1180],[7.3,1150],[7.4,1130],[7.5,1160],[7.6,1130],[7.7,1170],[7.8,1180],[7.9,1130],[8,1120],[8.1,1160],[8.2,1130],[8.3,1150],[8.4,1200],[8.5,1100],[8.6,1140],[8.7,1130],[8.8,1120],[8.9,1150],[9,1080],[9.1,1130],[9.2,1130],[9.3,1150],[9.4,1120],[9.5,1120],[9.6,1140],[9.7,1100],[9.8,1130],[9.9,1110],[10,1080],[10.1,1120],[10.2,1150],[10.3,1130],[10.4,1160],[10.5,1150],[10.6,1120],[10.7,1100],[10.8,1130],[10.9,1170],[11,1100],[11.1,1140],[11.2,1150],[11.3,1050],[11.4,1150],[11.45,1200],[11.5,1160],[11.55,1150],[11.6,1100],[11.65,1050],[11.7,1000],[11.75,250],[11.8,950],[11.85,500],[11.9,900],[11.95,300],[12,500],[12.05,700],[12.1,350],[12.15,600],[12.2,800],[12.25,450],[12.3,650],[12.35,1030],[12.4,600],[12.45,350],[12.5,700],[12.55,800],[12.6,500],[12.65,400],[12.7,750],[12.75,600],[12.8,1160],[12.85,450],[12.9,600],[12.95,900],[13,1300],[13.03,1890],[13.06,700],[13.1,1300],[13.15,800],[13.2,1940],[13.25,1100],[13.3,1500],[13.35,900],[13.4,1400],[13.45,1000],[13.5,800],[13.55,1200],[13.58,1980],[13.62,400],[13.7,380],[13.78,360]];
const true5: Pt[] = [[0,217],[0.05,380],[0.08,360],[0.1,800],[0.12,360],[0.4,360],[0.42,3720],[0.45,3550],[0.5,3100],[0.55,3420],[0.57,3080],[0.59,2000],[0.61,3320],[0.66,3050],[0.75,2920],[0.88,2620],[0.9,3650],[0.92,2560],[1,2430],[1.05,2370],[1.08,1580],[1.11,1380],[1.15,1330],[1.18,2400],[1.3,2030],[1.45,1830],[1.6,1750],[1.68,1720],[1.7,1270],[1.75,1370],[1.8,1285],[1.85,1335],[1.9,1285],[1.95,1315],[2,1335],[2.05,1295],[2.1,1285],[2.15,1325],[2.2,1545],[2.22,1305],[2.3,1285],[2.35,1325],[2.4,1255],[2.5,1265],[2.55,1305],[2.6,1275],[2.7,1315],[2.75,1265],[2.8,1180],[2.84,1235],[2.85,2640],[2.87,1730],[2.9,1620],[2.95,1585],[2.98,1185],[3,930],[3.05,1250],[3.1,1300],[3.2,1205],[3.3,1185],[3.4,1235],[3.5,1235],[3.55,640],[3.58,1085],[3.6,1180],[3.7,1155],[3.8,1205],[3.9,1165],[4,1115],[4.1,1185],[4.2,1185],[4.3,1135],[4.4,1165],[4.5,1125],[4.6,1175],[4.7,1135],[4.79,1155],[4.8,1580],[4.82,1135],[4.9,1145],[5,1165],[5.1,1125],[5.2,1135],[5.3,1185],[5.4,1235],[5.5,1165],[5.6,1155],[5.7,1185],[5.8,1165],[5.9,1135],[6,1185],[6.1,1155],[6.2,1165],[6.3,1185],[6.4,1215],[6.5,1135],[6.6,1185],[6.7,1235],[6.8,1075],[6.9,1135],[7,1135],[7.1,1115],[7.2,1165],[7.3,1135],[7.4,1115],[7.5,1145],[7.6,1115],[7.7,1155],[7.8,1165],[7.9,1115],[8,1105],[8.1,1145],[8.2,1115],[8.3,1135],[8.4,1185],[8.5,1085],[8.6,1125],[8.7,1115],[8.8,1105],[8.9,1135],[9,1065],[9.1,1115],[9.2,1115],[9.3,1135],[9.4,1105],[9.5,1105],[9.6,1125],[9.7,1085],[9.8,1115],[9.9,1095],[10,1065],[10.1,1105],[10.2,1135],[10.3,1115],[10.4,1145],[10.5,1135],[10.6,1105],[10.7,1085],[10.8,1115],[10.9,1155],[11,1085],[11.1,1125],[11.2,1135],[11.3,1035],[11.4,1135],[11.45,1180],[11.5,1145],[11.55,1135],[11.6,1085],[11.65,1035],[11.7,980],[11.75,230],[11.8,930],[11.85,480],[11.9,880],[11.95,280],[12,480],[12.05,680],[12.1,330],[12.15,580],[12.2,780],[12.25,430],[12.3,630],[12.35,1010],[12.4,580],[12.45,330],[12.5,680],[12.55,780],[12.6,480],[12.65,380],[12.7,730],[12.75,580],[12.8,1140],[12.85,430],[12.9,580],[12.95,1050],[13,1280],[13.03,1870],[13.06,680],[13.1,1280],[13.15,780],[13.2,1920],[13.25,1080],[13.3,1520],[13.35,880],[13.4,1380],[13.45,980],[13.5,780],[13.55,1180],[13.58,1960],[13.62,380],[13.7,360],[13.78,340]];
const err5: Pt[] = [[0,240],[0.02,0],[0.05,-50],[0.08,-420],[0.09,100],[0.12,150],[0.15,-30],[0.2,20],[0.3,-150],[0.32,20],[0.4,0],[0.42,-500],[0.43,330],[0.46,20],[0.5,150],[0.53,-50],[0.55,333],[0.57,-120],[0.6,40],[0.65,-40],[0.7,20],[0.8,60],[0.85,0],[0.9,1089],[0.91,10],[1,30],[1.1,-20],[1.15,150],[1.17,-60],[1.2,20],[1.3,10],[1.5,15],[1.6,5],[1.7,20],[1.9,-5],[2.1,15],[2.2,30],[2.3,-5],[2.5,15],[2.7,0],[2.84,10],[2.85,1000],[2.86,-180],[2.9,60],[2.95,-80],[3,60],[3.05,-20],[3.2,10],[3.4,0],[3.54,30],[3.55,200],[3.56,-100],[3.6,30],[3.7,5],[3.9,-8],[4.1,10],[4.3,-8],[4.5,8],[4.7,-5],[4.8,-350],[4.82,10],[5,-8],[5.2,8],[5.4,-10],[5.6,10],[5.8,-8],[6,8],[6.2,-10],[6.4,10],[6.6,-8],[6.8,8],[7,-10],[7.2,8],[7.4,-8],[7.6,10],[7.8,-8],[8,8],[8.2,-10],[8.4,10],[8.6,-8],[8.8,8],[9,-10],[9.2,8],[9.4,-8],[9.6,10],[9.8,-8],[10,8],[10.2,-10],[10.4,10],[10.6,-8],[10.8,8],[11,-10],[11.2,8],[11.4,-8],[11.6,10],[11.75,-80],[11.78,110],[11.82,-60],[11.86,80],[11.9,-100],[11.94,60],[11.98,-80],[12.02,100],[12.06,-60],[12.1,80],[12.14,-100],[12.18,60],[12.22,-80],[12.26,100],[12.3,-100],[12.34,60],[12.38,-80],[12.42,80],[12.46,-60],[12.5,100],[12.54,-80],[12.58,60],[12.62,-100],[12.66,80],[12.7,-60],[12.74,100],[12.78,-80],[12.82,120],[12.86,-100],[12.9,150],[12.94,-150],[12.98,200],[13.01,-250],[13.03,508],[13.05,-300],[13.08,250],[13.11,-200],[13.14,300],[13.17,-250],[13.2,480],[13.22,-330],[13.25,250],[13.28,-200],[13.31,200],[13.34,-150],[13.37,150],[13.4,-120],[13.43,150],[13.46,-100],[13.5,120],[13.54,-80],[13.58,100],[13.6,0],[13.62,350],[13.78,350],[13.8,0]];

// ---------------- 航班6 ----------------
const pred6: Pt[] = [[0,81],[0.02,300],[0.05,350],[0.09,380],[0.11,700],[0.13,400],[0.15,737],[0.17,350],[0.25,350],[0.34,350],[0.35,3890],[0.38,3800],[0.42,2986],[0.45,3245],[0.48,3200],[0.52,3060],[0.6,2876],[0.65,2747],[0.7,2650],[0.78,2550],[0.81,2540],[0.82,3521],[0.84,2526],[0.95,2300],[1.05,2157],[1.15,1950],[1.25,1800],[1.3,1714],[1.45,1456],[1.5,1350],[1.52,1400],[1.55,830],[1.6,900],[1.65,700],[1.7,1200],[1.75,1622],[1.77,1000],[1.8,977],[1.85,900],[1.9,1100],[1.93,1659],[1.96,1000],[1.98,1100],[2,1493],[2.03,1180],[2.1,1250],[2.2,1169],[2.3,1200],[2.4,1191],[2.5,1160],[2.6,1143],[2.7,1180],[2.8,1170],[2.9,1140],[3,1150],[3.05,1272],[3.1,1180],[3.2,1230],[3.3,1200],[3.4,1300],[3.5,1200],[3.6,1106],[3.7,1200],[3.8,1150],[3.9,1120],[4,1150],[4.15,1120],[4.3,1250],[4.4,1150],[4.5,1200],[4.58,848],[4.62,1300],[4.68,1400],[4.71,1659],[4.75,1300],[4.8,900],[4.85,1250],[4.95,1150],[5.1,1200],[5.2,1100],[5.35,1250],[5.45,1100],[5.55,1170],[5.7,1150],[5.85,1230],[6,1120],[6.1,1200],[6.2,1180],[6.35,1150],[6.45,1200],[6.6,1150],[6.7,1100],[6.72,479],[6.77,903],[6.82,498],[6.88,1346],[6.95,1280],[7.05,1300],[7.2,1309],[7.3,1350],[7.4,1380],[7.5,1320],[7.6,1350],[7.7,1310],[7.8,1400],[7.9,1330],[8,1350],[8.1,1310],[8.2,1380],[8.35,1280],[8.5,1330],[8.6,1198],[8.75,1401],[8.9,1217],[9.15,1383],[9.3,1272],[9.45,1390],[9.55,1456],[9.6,1420],[9.65,1309],[9.7,1200],[9.78,461],[9.82,719],[9.9,830],[9.98,535],[10.03,870],[10.13,498],[10.21,850],[10.25,1456],[10.29,682],[10.33,866],[10.43,1032],[10.53,903],[10.62,350],[10.66,780],[10.74,940],[10.84,608],[10.85,1254],[10.92,1198],[11.02,1250],[11.09,1364],[11.12,571],[11.16,1250],[11.31,1198],[11.46,1260],[11.59,1309],[11.61,221],[11.66,571],[11.71,313],[11.76,550],[11.81,387],[11.92,1235],[11.98,682],[12.05,313],[12.1,1051],[12.15,1198],[12.2,682],[12.25,1000],[12.32,350],[12.36,1000],[12.4,900],[12.43,2120],[12.46,350],[12.6,350],[12.67,645],[12.69,350],[12.86,664],[12.88,300],[13.02,350]];
const true6: Pt[] = [[0,81],[0.02,350],[0.05,370],[0.09,380],[0.11,914],[0.13,300],[0.15,720],[0.17,330],[0.25,330],[0.34,330],[0.35,3880],[0.38,3850],[0.42,3000],[0.45,3260],[0.48,3210],[0.52,3080],[0.6,2860],[0.65,2730],[0.7,2630],[0.78,2530],[0.81,2520],[0.82,3500],[0.84,2500],[0.95,2280],[1.05,2140],[1.15,1930],[1.25,1780],[1.3,1695],[1.45,1440],[1.5,1335],[1.52,1380],[1.55,800],[1.6,880],[1.65,680],[1.7,1180],[1.75,1700],[1.77,980],[1.8,960],[1.85,880],[1.9,1080],[1.93,1700],[1.96,980],[1.98,1080],[2,1470],[2.03,1160],[2.1,1235],[2.2,1155],[2.3,1185],[2.4,1175],[2.5,1145],[2.6,1128],[2.7,1165],[2.8,1155],[2.9,1125],[3,1135],[3.05,1257],[3.1,1165],[3.2,1215],[3.3,1185],[3.4,1285],[3.5,1185],[3.6,1091],[3.7,1185],[3.8,1135],[3.9,1105],[4,1135],[4.15,1105],[4.3,1235],[4.4,1135],[4.5,1185],[4.58,830],[4.62,1285],[4.68,1385],[4.71,1640],[4.75,1285],[4.8,880],[4.85,1235],[4.95,1135],[5.1,1185],[5.2,1085],[5.35,1235],[5.45,1085],[5.55,1155],[5.7,1135],[5.85,1215],[6,1105],[6.1,1185],[6.2,1165],[6.35,1135],[6.45,1185],[6.6,1135],[6.7,1080],[6.72,460],[6.77,885],[6.82,480],[6.88,1330],[6.95,1265],[7.05,1285],[7.2,1294],[7.3,1335],[7.4,1365],[7.5,1305],[7.6,1335],[7.7,1295],[7.8,1385],[7.9,1315],[8,1335],[8.1,1295],[8.2,1365],[8.35,1265],[8.5,1315],[8.6,1180],[8.75,1386],[8.9,1200],[9.15,1368],[9.3,1257],[9.45,1375],[9.55,1440],[9.6,1405],[9.65,1294],[9.7,1180],[9.78,440],[9.82,700],[9.9,810],[9.98,515],[10.03,850],[10.13,478],[10.21,830],[10.25,1480],[10.29,662],[10.33,846],[10.43,1012],[10.53,883],[10.62,313],[10.66,760],[10.74,920],[10.84,588],[10.85,1240],[10.92,1180],[11.02,1235],[11.09,1350],[11.12,551],[11.16,1235],[11.31,1183],[11.46,1245],[11.59,1290],[11.61,200],[11.66,551],[11.71,293],[11.76,530],[11.81,367],[11.92,1220],[11.98,662],[12.05,290],[12.1,1031],[12.15,1180],[12.2,662],[12.25,980],[12.32,330],[12.36,980],[12.4,880],[12.43,2212],[12.46,330],[12.6,330],[12.67,625],[12.69,330],[12.86,644],[12.88,280],[13.02,330]];
const err6: Pt[] = [[0,-100],[0.02,50],[0.05,150],[0.08,-100],[0.11,-200],[0.14,100],[0.17,-50],[0.2,20],[0.3,10],[0.34,-240],[0.35,424],[0.37,-50],[0.42,737],[0.43,20],[0.5,40],[0.6,30],[0.66,150],[0.68,30],[0.8,35],[0.82,1021],[0.83,35],[1,35],[1.2,30],[1.24,100],[1.26,20],[1.4,30],[1.5,110],[1.52,-200],[1.55,80],[1.6,-100],[1.65,60],[1.7,-150],[1.75,100],[1.77,-290],[1.8,50],[1.85,-100],[1.9,80],[1.93,-300],[1.96,60],[2,-50],[2.05,20],[2.2,-5],[2.4,10],[2.6,-10],[2.8,10],[3,-15],[3.2,10],[3.4,-10],[3.6,5],[3.8,-10],[4,8],[4.2,-8],[4.4,10],[4.55,-10],[4.58,203],[4.6,-80],[4.64,60],[4.68,-100],[4.71,40],[4.8,280],[4.82,-120],[4.86,20],[5,-5],[5.2,10],[5.4,-10],[5.6,8],[5.8,-8],[6,10],[6.2,-10],[6.4,8],[6.6,-5],[6.72,-60],[6.75,60],[6.82,-30],[6.9,20],[7.1,15],[7.3,20],[7.5,12],[7.7,20],[7.9,15],[8.1,20],[8.3,12],[8.5,20],[8.7,15],[8.9,20],[9.1,12],[9.3,20],[9.5,15],[9.7,-20],[9.75,80],[9.8,-80],[9.85,100],[9.9,-60],[9.95,80],[10,-100],[10.05,60],[10.1,-80],[10.15,100],[10.2,-60],[10.25,80],[10.3,-100],[10.35,60],[10.4,-80],[10.45,100],[10.5,-60],[10.55,80],[10.6,184],[10.62,-255],[10.65,60],[10.7,-80],[10.75,60],[10.8,-60],[10.85,80],[10.9,-40],[11,30],[11.09,-100],[11.12,60],[11.2,-30],[11.3,40],[11.4,-40],[11.5,30],[11.57,-60],[11.6,200],[11.62,-250],[11.66,80],[11.71,-100],[11.76,60],[11.81,-230],[11.86,60],[11.92,-80],[11.98,100],[12.04,-100],[12.1,180],[12.15,-60],[12.2,120],[12.25,-80],[12.3,230],[12.33,-100],[12.38,60],[12.43,-250],[12.46,150],[12.5,-40],[12.55,30],[12.67,-170],[12.7,20],[12.87,-220],[12.9,10],[13,0],[13.02,350]];

// ---------------- axes / labels ----------------
const legendLabels = ["真实值", "总预测值", "误差"];
const panelLabels = ["航班1", "航班2", "航班3", "航班4", "航班5", "航班6"];
const xLimits: Pt[] = [[-0.5, 12.5], [-0.5, 9], [-0.5, 13.5], [-0.5, 12.5], [-0.5, 14.5], [-0.5, 13.5]];
const yLimits: Pt[] = [[-500, 4500], [-500, 4500], [-500, 4000], [-500, 4500], [-500, 4500], [-500, 4250]];
const xTickValues = [
  [0, 2, 4, 6, 8, 10, 12],
  [0, 1, 2, 3, 4, 5, 6, 7, 8],
  [0, 2, 4, 6, 8, 10, 12],
  [0, 2, 4, 6, 8, 10, 12],
  [0, 2, 4, 6, 8, 10, 12, 14],
  [0, 2, 4, 6, 8, 10, 12],
];
const xLabelValues = [
  [0, 2, 4, 6, 8, 10, 12],
  [0, 2, 4, 6, 8],
  [0, 2, 4, 6, 8, 10, 12],
  [0, 2, 4, 6, 8, 10, 12],
  [0, 2, 4, 6, 8, 10, 12, 14],
  [0, 2, 4, 6, 8, 10, 12],
];
const yTicks500 = [0, 500, 1000, 1500, 2000, 2500, 3000, 3500, 4000];
const yTicks3 = [0, 500, 1000, 1500, 2000, 2500, 3000, 3500];
const yTicks6 = [-250, 0, 250, 500, 750, 1000, 1250, 1500, 1750, 2000, 2250, 2500, 2750, 3000, 3250, 3500, 3750, 4000];
const yMajor1000 = [0, 1000, 2000, 3000, 4000];
const yMajor500 = [0, 500, 1000, 1500, 2000, 2500, 3000, 3500, 4000];
const yTickValues = [yTicks500, yTicks500, yTicks3, yTicks500, yTicks500, yTicks6];
const yMajorValues = [yMajor1000, yMajor1000, [] as number[], yMajor1000, yMajor1000, yMajor500];
const yLabelValues = [yMajor1000, [] as number[], [] as number[], yMajor1000, [] as number[], [] as number[]];

const seriesPred = [pred1, pred2, pred3, pred4, pred5, pred6];
const seriesTrue = [true1, true2, true3, true4, true5, true6];
const seriesErr = [err1, err2, err3, err4, err5, err6];

// ---------------- layout / style ----------------
const FIG_W = 3780;
const FIG_H = 2567;
const COL_LEFT = [463, 1505, 2547];
const ROW_TOP = [104, 1354];
const PLOT_W = 1041;
const PLOT_H = 1020;
const Y_AXIS_W = 200;
const X_AXIS_H = 110;
const PAD = 12;
const GREEN = "#3aa96a";
const RED = "#ee4444";
const BLUE = "#1d6fdc";
const SERIF = "'Liberation Serif', 'Times New Roman', serif";
const CJK = "'Liberation Serif', 'Noto Sans CJK SC', serif";
const FS = 66;

const toXY = (pts: Pt[]) => pts.map(([x, y]) => ({ x, y }));
const has = (arr: number[], v: number) => arr.some((a) => Math.abs(a - v) < 1e-6);

const framePlugin = {
  id: "frame",
  afterDatasetsDraw(chart: any, _args: any, opts: any) {
    const { ctx, chartArea: a, scales } = chart;
    ctx.save();
    ctx.strokeStyle = "#000";
    ctx.lineCap = "butt";
    ctx.lineWidth = 3;
    const xs = scales.x;
    const ys = scales.y;
    xs.ticks.forEach((t: any) => {
      const px = Math.round(xs.getPixelForValue(t.value));
      const len = has(opts.xMajor, t.value) ? 16 : 11;
      ctx.beginPath();
      ctx.moveTo(px, a.bottom);
      ctx.lineTo(px, a.bottom - len);
      ctx.stroke();
    });
    ys.ticks.forEach((t: any) => {
      const py = Math.round(ys.getPixelForValue(t.value));
      const len = has(opts.yMajor, t.value) ? 16 : 11;
      ctx.beginPath();
      ctx.moveTo(a.left, py);
      ctx.lineTo(a.left + len, py);
      ctx.stroke();
    });
    ctx.lineWidth = 4;
    ctx.strokeRect(a.left, a.top, a.right - a.left, a.bottom - a.top);
    ctx.restore();
  },
};

function Panel({ idx }: { idx: number }) {
  const ref = useRef<HTMLCanvasElement | null>(null);
  const col = idx % 3;
  const row = Math.floor(idx / 3);
  const w = Y_AXIS_W + PLOT_W + PAD;
  const h = PAD + PLOT_H + X_AXIS_H;
  useEffect(() => {
    if (!ref.current) return;
    const xT = xTickValues[idx];
    const xL = xLabelValues[idx];
    const yT = yTickValues[idx];
    const yL = yLabelValues[idx];
    const tickFont = { family: SERIF, size: FS };
    const chart = new Chart(ref.current, {
      type: "line",
      data: {
        datasets: [
          { label: legendLabels[2], data: toXY(seriesErr[idx]), borderColor: BLUE, borderWidth: 3 },
          { label: legendLabels[1], data: toXY(seriesPred[idx]), borderColor: RED, borderWidth: 3.5 },
          { label: legendLabels[0], data: toXY(seriesTrue[idx]), borderColor: GREEN, borderWidth: 3.5 },
        ],
      },
      options: {
        responsive: false,
        animation: false,
        devicePixelRatio: 1,
        events: [],
        layout: { padding: { top: PAD, right: PAD, left: 0, bottom: 0 } },
        elements: {
          point: { radius: 0 },
          line: { tension: 0, fill: false, borderJoinStyle: "round", borderCapStyle: "round" },
        },
        plugins: {
          legend: { display: false },
          tooltip: { enabled: false },
          frame: { xMajor: xL, yMajor: yMajorValues[idx] },
        } as any,
        scales: {
          x: {
            type: "linear",
            min: xLimits[idx][0],
            max: xLimits[idx][1],
            grid: { display: false, drawTicks: false },
            border: { display: false },
            afterBuildTicks: (s: any) => {
              s.ticks = xT.map((v) => ({ value: v }));
            },
            afterFit: (s: any) => {
              s.height = X_AXIS_H;
              s.paddingLeft = 0;
              s.paddingRight = 0;
              s.paddingTop = 0;
              s.paddingBottom = 0;
            },
            ticks: {
              autoSkip: false,
              maxRotation: 0,
              minRotation: 0,
              padding: 18,
              color: "#000",
              font: tickFont,
              callback: (v: any) => (has(xL, Number(v)) ? String(v) : ""),
            },
          },
          y: {
            type: "linear",
            min: yLimits[idx][0],
            max: yLimits[idx][1],
            grid: { display: false, drawTicks: false },
            border: { display: false },
            afterBuildTicks: (s: any) => {
              s.ticks = yT.map((v) => ({ value: v }));
            },
            afterFit: (s: any) => {
              s.width = Y_AXIS_W;
              s.paddingLeft = 0;
              s.paddingRight = 0;
              s.paddingTop = 0;
              s.paddingBottom = 0;
            },
            ticks: {
              autoSkip: false,
              padding: 25,
              color: "#000",
              font: tickFont,
              callback: (v: any) => (has(yL, Number(v)) ? String(v) : ""),
            },
          },
        },
      } as any,
      plugins: [framePlugin as any],
    });
    return () => chart.destroy();
  }, [idx]);
  return (
    <canvas
      ref={ref}
      width={w}
      height={h}
      style={{ position: "absolute", left: COL_LEFT[col] - Y_AXIS_W, top: ROW_TOP[row] - PAD, width: w, height: h }}
    />
  );
}

const textBase: React.CSSProperties = {
  position: "absolute",
  whiteSpace: "nowrap",
  color: "#000",
  fontSize: FS,
  lineHeight: `${FS}px`,
};

export default function App() {
  useEffect(() => {
    document.body.style.margin = "0";
  }, []);
  const legendItems = [
    { color: GREEN, lineLeft: 1458, textLeft: 1598, label: legendLabels[0] },
    { color: RED, lineLeft: 1851, textLeft: 1991, label: legendLabels[1] },
    { color: BLUE, lineLeft: 2318, textLeft: 2458, label: legendLabels[2] },
  ];
  return (
    <div style={{ position: "absolute", left: 0, top: 0, width: FIG_W, height: FIG_H, background: "#fff", overflow: "hidden" }}>
      {[0, 1, 2, 3, 4, 5].map((i) => (
        <Panel key={i} idx={i} />
      ))}
      {legendItems.map((it, i) => (
        <React.Fragment key={i}>
          <div style={{ position: "absolute", left: it.lineLeft, top: 31, width: 126, height: 4, background: it.color }} />
          <div style={{ ...textBase, fontFamily: CJK, left: it.textLeft, top: 35, transform: "translateY(-50%)" }}>{it.label}</div>
        </React.Fragment>
      ))}
      {[0, 1, 2, 3, 4, 5].map((i) => {
        const col = i % 3;
        const row = Math.floor(i / 3);
        return (
          <React.Fragment key={"t" + i}>
            <div
              style={{
                ...textBase,
                fontFamily: CJK,
                left: COL_LEFT[col] + PLOT_W - 100,
                top: ROW_TOP[row] + 92,
                transform: "translate(-100%, -50%)",
              }}
            >
              {panelLabels[i]}
            </div>
            <div
              style={{
                ...textBase,
                fontFamily: SERIF,
                left: COL_LEFT[col] + PLOT_W / 2,
                top: ROW_TOP[row] + PLOT_H + 156,
                transform: "translate(-50%, -50%)",
              }}
            >
              <i>t</i>/10
              <span style={{ fontSize: 40, position: "relative", top: -24 }}>3</span> s
            </div>
          </React.Fragment>
        );
      })}
      {[0, 1].map((row) => (
        <div
          key={"y" + row}
          style={{
            ...textBase,
            fontFamily: SERIF,
            left: 233,
            top: ROW_TOP[row] + PLOT_H / 2,
            transform: "translate(-50%, -50%) rotate(-90deg)",
          }}
        >
          <i>f</i>/(kg/h)
        </div>
      ))}
    </div>
  );
}
